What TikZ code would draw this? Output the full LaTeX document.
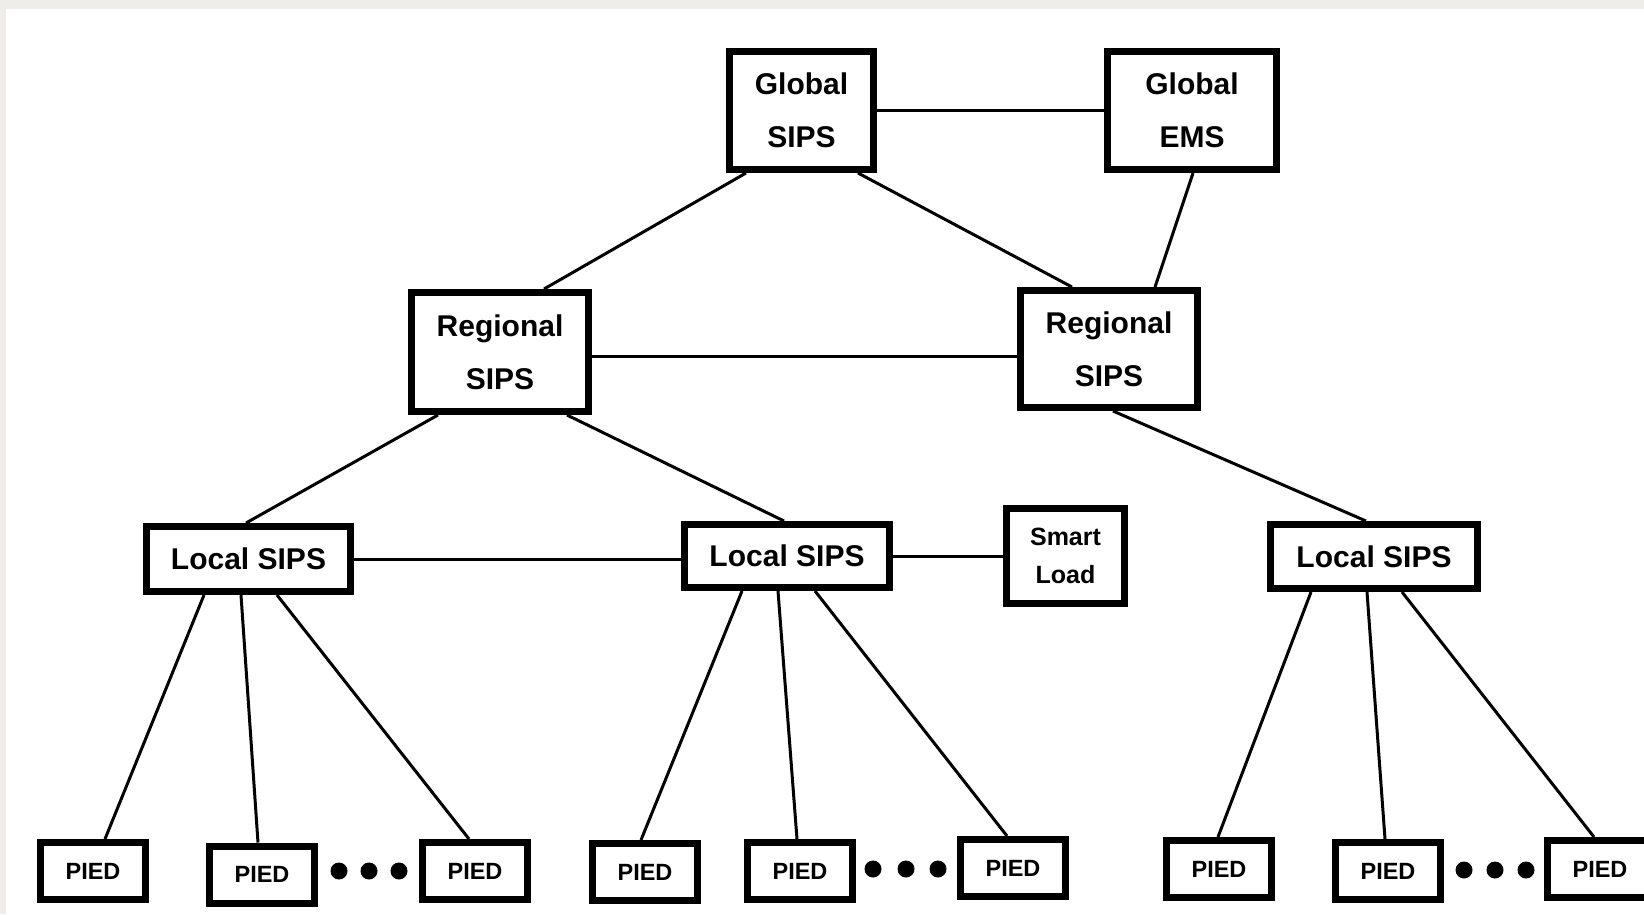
\documentclass[tikz,border=0pt]{standalone}
\usepackage{fontspec}
\setmainfont{Liberation Sans}
\definecolor{framegray}{RGB}{238,237,233}
\begin{document}
\begin{tikzpicture}[x=1pt,y=-1pt,
  box/.style={draw=black, line width=7pt, fill=white, inner sep=0pt,
    align=center, font=\bfseries\fontsize{30}{53}\selectfont},
  piedbox/.style={box, minimum width=105pt, minimum height=57pt,
    font=\bfseries\fontsize{23.5}{28}\selectfont},
  link/.style={line width=3pt},
  dot/.style={circle, fill=black, inner sep=0pt, minimum size=17pt}]
\useasboundingbox (0,0) rectangle (1644,914);
\fill[framegray] (0,0) rectangle (1644,914);
\fill[white] (6,9) rectangle (1644,914);
\clip (0,0) rectangle (1644,914);

% top level
\node[box, minimum width=144pt, minimum height=118pt] (gsips) at (801.5,110.5) {Global\\SIPS};
\node[box, minimum width=169pt, minimum height=118pt] (gems) at (1192,110.5) {Global\\EMS};

% regional level
\node[box, minimum width=177pt, minimum height=119pt] (regL) at (500,352) {Regional\\SIPS};
\node[box, minimum width=177pt, minimum height=117pt] (regR) at (1109,349) {Regional\\SIPS};

% local level
\node[box, minimum width=204pt, minimum height=65pt] (loc1) at (248.5,559) {Local SIPS};
\node[box, minimum width=205pt, minimum height=63pt] (loc2) at (787,556) {Local SIPS};
\node[box, minimum width=118pt, minimum height=95pt, font=\bfseries\fontsize{25}{38}\selectfont] (smart) at (1065.5,556) {Smart\\Load};
\node[box, minimum width=207pt, minimum height=64pt] (loc3) at (1374,556.5) {Local SIPS};

% field devices
\node[piedbox] (p1) at (93,871) {PIED};
\node[piedbox] (p2) at (262,874.5) {PIED};
\node[piedbox] (p3) at (475,871) {PIED};
\node[piedbox] (p4) at (645,872) {PIED};
\node[piedbox] (p5) at (800,871) {PIED};
\node[piedbox] (p6) at (1013,868) {PIED};
\node[piedbox] (p7) at (1219,869) {PIED};
\node[piedbox] (p8) at (1388,871) {PIED};
\node[piedbox] (p9) at (1600,869) {PIED};

% ellipsis dots
\node[dot] (d1) at (339,871) {};
\node[dot] (d2) at (369,871) {};
\node[dot] (d3) at (399,871) {};
\node[dot] (d4) at (873,869) {};
\node[dot] (d5) at (906,869) {};
\node[dot] (d6) at (938,869) {};
\node[dot] (d7) at (1464,870) {};
\node[dot] (d8) at (1495,870) {};
\node[dot] (d9) at (1526,870) {};

% links
\draw[link] (gsips.east) -- (gsips.east -| gems.west);
\draw[link] ([xshift=-55.5pt]gsips.south) -- ([xshift=44pt]regL.north);
\draw[link] ([xshift=56.5pt]gsips.south) -- ([xshift=-37pt]regR.north);
\draw[link] ([xshift=1pt]gems.south) -- ([xshift=46pt]regR.north);
\draw[link] ([yshift=-4pt]regL.east) -- ([yshift=-4pt]regL.east -| regR.west);

\draw[link] ([xshift=-62pt]regL.south) -- ([xshift=-2.5pt]loc1.north);
\draw[link] ([xshift=67pt]regL.south) -- ([xshift=-3pt]loc2.north);
\draw[link] ([xshift=4pt]regR.south) -- ([xshift=-8pt]loc3.north);

\draw[link] (loc1.east) -- (loc1.east -| loc2.west);
\draw[link] (loc2.east) -- (loc2.east -| smart.west);

\draw[link] ([xshift=-44.5pt]loc1.south) -- ([xshift=12pt]p1.north);
\draw[link] ([xshift=-7.5pt]loc1.south) -- ([xshift=-4pt]p2.north);
\draw[link] ([xshift=28.5pt]loc1.south) -- ([xshift=-6pt]p3.north);

\draw[link] ([xshift=-45pt]loc2.south) -- ([xshift=-4pt]p4.north);
\draw[link] ([xshift=-9pt]loc2.south) -- ([xshift=-3pt]p5.north);
\draw[link] ([xshift=28pt]loc2.south) -- ([xshift=-6pt]p6.north);

\draw[link] ([xshift=-63pt]loc3.south) -- ([xshift=-1pt]p7.north);
\draw[link] ([xshift=-7pt]loc3.south) -- ([xshift=-3pt]p8.north);
\draw[link] ([xshift=28pt]loc3.south) -- ([xshift=-6pt]p9.north);
\end{tikzpicture}
\end{document}
